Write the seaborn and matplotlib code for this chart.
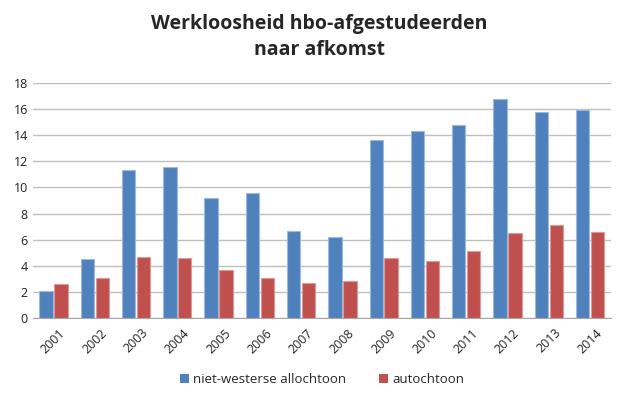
import pandas as pd
import numpy as np
import matplotlib
matplotlib.use("Agg")
import matplotlib.pyplot as plt
import seaborn as sns

years = [str(y) for y in range(2001, 2015)]
niet_westers = [2.1, 4.5, 11.3, 11.6, 9.2, 9.6, 6.7, 6.2, 13.6, 14.3, 14.8, 16.8, 15.8, 15.9]
autochtoon = [2.6, 3.1, 4.7, 4.6, 3.7, 3.1, 2.7, 2.8, 4.6, 4.4, 5.1, 6.5, 7.1, 6.6]
series_names = ["niet-westerse allochtoon", "autochtoon"]

df = pd.DataFrame({"jaar": years * 2,
                   "waarde": niet_westers + autochtoon,
                   "groep": [series_names[0]] * len(years) + [series_names[1]] * len(years)})

sns.set_style("white")
plt.rcParams["font.family"] = ["Open Sans", "DejaVu Sans"]

fig = plt.figure(figsize=(6.2, 3.97), dpi=100)
ax = fig.add_axes([0.053, 0.199, 0.932, 0.592])

sns.barplot(data=df, x="jaar", y="waarde", hue="groep",
            palette=["#4F81BD", "#C0504D"], saturation=1, width=0.72, gap=0.1,
            edgecolor=None, linewidth=0, ax=ax)
for bars, ec in zip(ax.containers, ["#9DB9DE", "#DB9A98"]):
    for b in bars:
        b.set_edgecolor(ec)
        b.set_linewidth(0.8)

ax.set_ylim(0, 18)
ax.set_yticks(range(0, 19, 2))
ax.set_xlim(-0.5, len(years) - 0.5)
ax.yaxis.grid(True, color="#BFBFBF", linewidth=1)
ax.set_axisbelow(True)
for s in ["top", "right", "left"]:
    ax.spines[s].set_visible(False)
ax.spines["bottom"].set_color("#A6A6A6")
ax.set_xlabel("")
ax.set_ylabel("")
ax.tick_params(axis="both", length=0, labelsize=9, colors="#222222")
plt.setp(ax.get_xticklabels(), rotation=45, ha="center", rotation_mode="default")
ax.tick_params(axis="x", pad=6)

ax.legend(loc="upper center", bbox_to_anchor=(0.5, -0.185), ncol=2, frameon=False,
          fontsize=9.5, handlelength=0.7, handleheight=0.7, columnspacing=2.5,
          handletextpad=0.3)

fig.suptitle("Werkloosheid hbo-afgestudeerden\nnaar afkomst", x=0.515, y=0.965,
             fontsize=14, fontweight="bold", linespacing=1.4)

fig.savefig("out.png", dpi=100)
